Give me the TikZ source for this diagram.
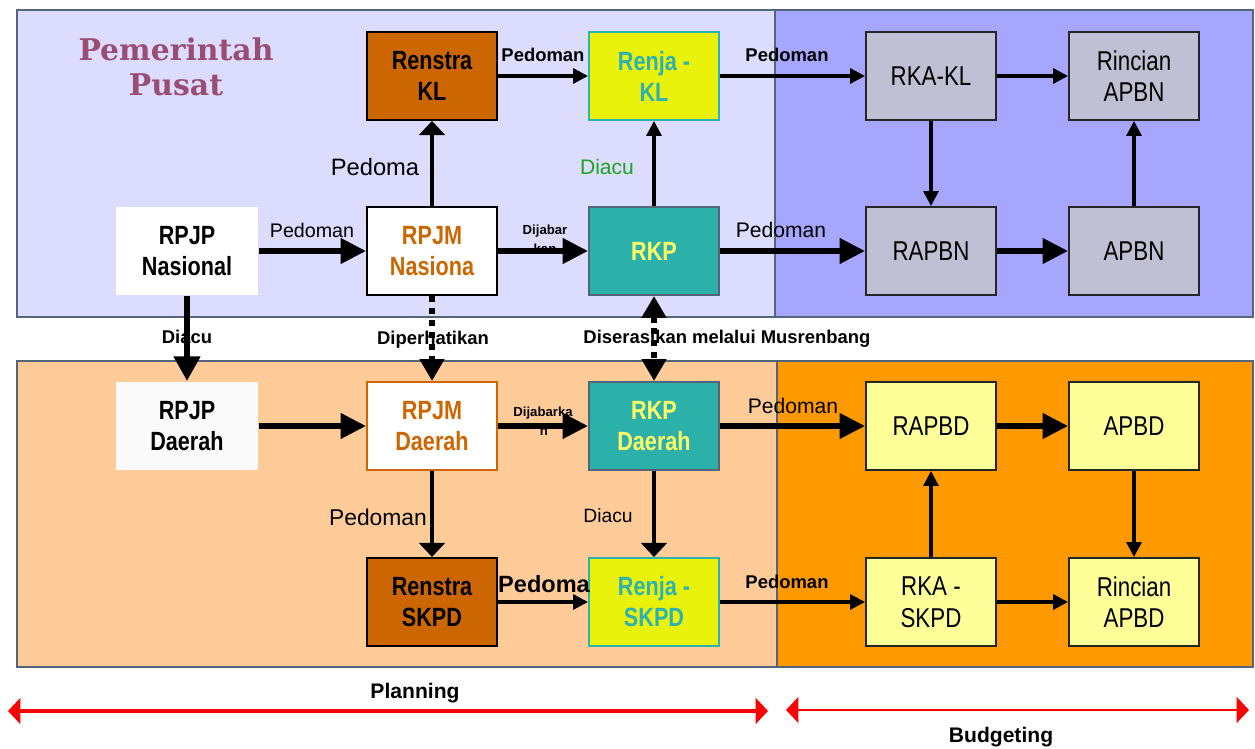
\documentclass[tikz,border=0pt]{standalone}
\usepackage{fontspec}
\setmainfont{Liberation Sans}
\newfontfamily\boxfont[FakeStretch=0.82]{Liberation Sans}
\newfontfamily\titlefont{DejaVu Serif}
\usetikzlibrary{arrows.meta}

\definecolor{pusatbg}{RGB}{220,220,255}
\definecolor{pusatbud}{RGB}{166,166,255}
\definecolor{daerahbg}{RGB}{255,204,153}
\definecolor{daerahbud}{RGB}{255,153,0}
\definecolor{panelline}{RGB}{86,100,122}
\definecolor{renstrafill}{RGB}{204,102,0}
\definecolor{renjafill}{RGB}{232,242,10}
\definecolor{renjateal}{RGB}{45,178,178}
\definecolor{rkpfill}{RGB}{43,176,170}
\definecolor{rkptext}{RGB}{255,255,102}
\definecolor{rkagray}{RGB}{192,192,212}
\definecolor{paleyellow}{RGB}{255,255,153}
\definecolor{rpjmtext}{RGB}{204,102,0}
\definecolor{titlecol}{RGB}{153,77,115}
\definecolor{diacugreen}{RGB}{30,165,30}

\begin{document}
\begin{tikzpicture}[x=0.02cm, y=-0.02cm,
    box/.style={rectangle, minimum width=2.6cm, minimum height=1.76cm, align=center,
        inner sep=0pt, line width=1.1pt, font=\boxfont\bfseries\fontsize{15}{17.6}\selectfont},
    plainbox/.style={box, draw=black!85, font=\boxfont\fontsize{15.5}{18}\selectfont},
    lbl/.style={font=\bfseries\fontsize{10.5}{12}\selectfont, inner sep=0pt},
    lblbig/.style={font=\fontsize{13.5}{15}\selectfont, inner sep=0pt},
    tiny/.style={font=\bfseries\fontsize{7.5}{8}\selectfont, inner sep=0pt},
    bigarrow/.style={line width=3.2pt, -{Triangle[length=14.5pt, width=14pt]}},
    thinarrow/.style={line width=1.8pt, -{Triangle[length=8.5pt, width=8.5pt]}},
    widearrow/.style={line width=1.8pt, -{Triangle[length=8pt, width=14.5pt]}},
    dotline/.style={line width=3.4pt, dash pattern=on 3.4pt off 3.4pt},
    redarrow/.style={red, {Triangle[length=7pt, width=14.5pt]}-{Triangle[length=7pt, width=14.5pt]}}]

    \useasboundingbox (0,0) rectangle (1255,749);

    % panels
    \filldraw[fill=pusatbg, draw=panelline, line width=0.9pt] (17,10) rectangle (775,317);
    \filldraw[fill=pusatbud, draw=panelline, line width=0.9pt] (775,10) rectangle (1253,317);
    \filldraw[fill=daerahbg, draw=panelline, line width=0.9pt] (17,361) rectangle (777,667);
    \filldraw[fill=daerahbud, draw=panelline, line width=0.9pt] (777,361) rectangle (1253,667);

    \node[titlecol, align=center, font=\titlefont\bfseries\fontsize{17}{20}\selectfont] (judul) at (176,67) {Pemerintah\\Pusat};

    % pusat - planning
    \node[box, fill=white, minimum width=2.84cm] (rpjpN) at (187,251) {RPJP\\Nasional};
    \node[box, fill=white, draw=black, text=rpjmtext] (rpjmN) at (432,251) {RPJM\\Nasiona};
    \node[box, fill=renstrafill, draw=black] (renstraKL) at (432,76) {Renstra\\KL};
    \node[box, fill=renjafill, draw=renjateal, text=renjateal] (renjaKL) at (654,76) {Renja -\\KL};
    \node[box, fill=rkpfill, draw=panelline, text=rkptext] (rkp) at (654,251) {RKP};

    % pusat - budgeting
    \node[plainbox, fill=rkagray] (rkaKL) at (931,76) {RKA-KL};
    \node[plainbox, fill=rkagray] (rincianN) at (1134,76) {Rincian\\APBN};
    \node[plainbox, fill=rkagray] (rapbn) at (931,251) {RAPBN};
    \node[plainbox, fill=rkagray] (apbn) at (1134,251) {APBN};

    % daerah - planning
    \node[box, fill=black!2, minimum width=2.84cm] (rpjpD) at (187,426) {RPJP\\Daerah};
    \node[box, fill=white, draw=rpjmtext, text=rpjmtext] (rpjmD) at (432,426) {RPJM\\Daerah};
    \node[box, fill=rkpfill, draw=panelline, text=rkptext] (rkpD) at (654,426) {RKP\\Daerah};
    \node[box, fill=renstrafill, draw=black] (renstraS) at (432,602) {Renstra\\SKPD};
    \node[box, fill=renjafill, draw=renjateal, text=renjateal] (renjaS) at (654,602) {Renja -\\SKPD};

    % daerah - budgeting
    \node[plainbox, fill=paleyellow] (rapbd) at (931,426) {RAPBD};
    \node[plainbox, fill=paleyellow] (apbd) at (1134,426) {APBD};
    \node[plainbox, fill=paleyellow] (rkaS) at (931,602) {RKA -\\SKPD};
    \node[plainbox, fill=paleyellow] (rincianD) at (1134,602) {Rincian\\APBD};

    % labels
    \node[lbl] (l1) at (543,55) {Pedoman};
    \node[lbl] (l2) at (787,55) {Pedoman};
    \node[lblbig] (l3) at (375,167) {Pedoma};
    \node[diacugreen, font=\fontsize{12}{14}\selectfont, inner sep=0pt] (l4) at (607,167) {Diacu};
    \node[font=\fontsize{11.2}{13}\selectfont, inner sep=0pt] (l5) at (312,230) {Pedoman};
    \node[tiny] (l6) at (545,231) {Dijabar};
    \node[tiny] (l7) at (545,249) {kan};
    \node[font=\fontsize{12}{14}\selectfont, inner sep=0pt] (l8) at (781,230) {Pedoman};
    \node[lbl] (l9) at (187,337) {Diacu};
    \node[lbl] (l10) at (433,340) {Diperhatikan};
    \node[lbl] (l11) at (727,339) {Diserasikan melalui Musrenbang};
    \node[tiny] (l12) at (543,413) {Dijabarka};
    \node[tiny] (l13) at (544,432) {n};
    \node[font=\fontsize{12}{14}\selectfont, inner sep=0pt] (l14) at (793,406) {Pedoman};
    \node[font=\fontsize{13}{15}\selectfont, inner sep=0pt] (l15) at (378,517) {Pedoman};
    \node[font=\fontsize{11}{13}\selectfont, inner sep=0pt] (l16) at (608,516) {Diacu};
    \node[font=\bfseries\fontsize{13.4}{15}\selectfont, inner sep=0pt] (l17) at (544,584) {Pedoma};
    \node[lbl] (l18) at (787,582) {Pedoman};

    % arrows pusat
    \draw[bigarrow] (rpjpN) -- (rpjmN);
    \draw[widearrow] (rpjmN) -- (renstraKL);
    \draw[thinarrow] (renstraKL) -- (renjaKL);
    \draw[thinarrow] (renjaKL) -- (rkaKL);
    \draw[thinarrow] (rkp) -- (renjaKL);
    \draw[bigarrow] (rpjmN) -- (rkp);
    \draw[bigarrow] (rkp) -- (rapbn);
    \draw[thinarrow] (rkaKL) -- (rincianN);
    \draw[thinarrow] (rkaKL) -- (rapbn);
    \draw[bigarrow] (rapbn) -- (apbn);
    \draw[thinarrow] (apbn) -- (rincianN);

    % pusat ke daerah
    \draw[line width=3.4pt, -{Triangle[length=14pt, width=14.5pt]}] (rpjpN) -- (rpjpD);
    \draw[dotline, -{Triangle[length=12.5pt, width=13.5pt]}] (rpjmN) -- (rpjmD);
    \draw[dotline, {Triangle[length=12.5pt, width=13.5pt]}-{Triangle[length=12.5pt, width=13.5pt]}] (rkp) -- (rkpD);

    % arrows daerah
    \draw[bigarrow] (rpjpD) -- (rpjmD);
    \draw[bigarrow] (rpjmD) -- (rkpD);
    \draw[bigarrow] (rkpD) -- (rapbd);
    \draw[bigarrow] (rapbd) -- (apbd);
    \draw[thinarrow] (apbd) -- (rincianD);
    \draw[thinarrow] (rkaS) -- (rapbd);
    \draw[thinarrow] (rkaS) -- (rincianD);
    \draw[widearrow] (rpjmD) -- (renstraS);
    \draw[widearrow] (rkpD) -- (renjaS);
    \draw[thinarrow] (renstraS) -- (renjaS);
    \draw[thinarrow] (renjaS) -- (rkaS);

    % planning / budgeting
    \coordinate (planL) at (8,711);
    \coordinate (planR) at (768,711);
    \coordinate (budL) at (786,710);
    \coordinate (budR) at (1249,710);
    \draw[redarrow, line width=2.3pt] (planL) -- (planR);
    \draw[redarrow, line width=1.7pt] (budL) -- (budR);
    \node[font=\bfseries\fontsize{12}{14}\selectfont] (plan) at (415,693) {Planning};
    \node[font=\bfseries\fontsize{12}{14}\selectfont] (bud) at (1001,737) {Budgeting};
\end{tikzpicture}
\end{document}
